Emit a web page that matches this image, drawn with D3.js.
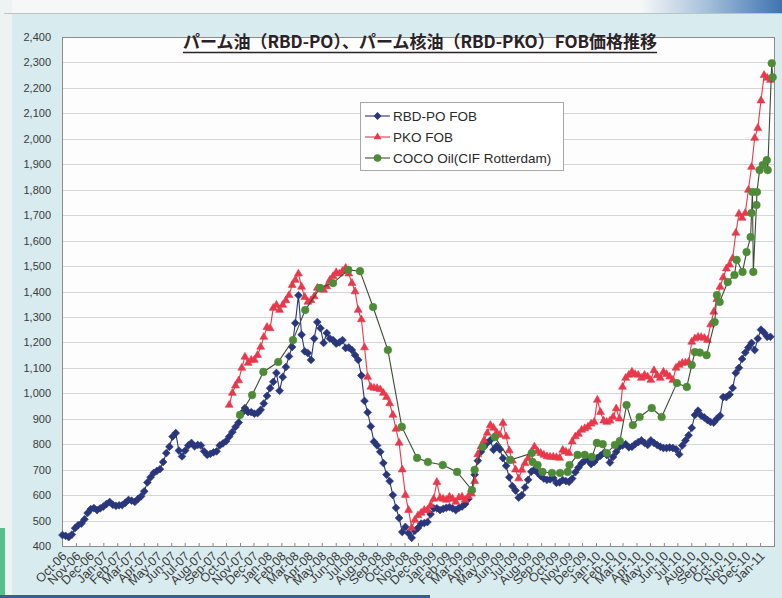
<!DOCTYPE html>
<html>
<head>
<meta charset="utf-8">
<script src="https://cdn.jsdelivr.net/npm/d3@7"></script>
<style>
  body { margin: 0; background: #d8ebef; }
  svg { display: block; }
</style>
</head>
<body>
<svg id="chart" width="782" height="598"></svg>
<script>
// Weekly RBD-PO FOB, first week starting 2006-10-02
var RBD_PO_START = "2006-10-02";
var rbdPo = [
    443, 440, 435, 445, 470, 482, 488, 505, 530, 545,
    549, 541, 548, 555, 565, 573, 562, 558, 560, 561,
    570, 581, 578, 573, 585, 595, 615, 650, 670, 687,
    695, 702, 730, 765, 790, 830, 844, 775, 752, 775,
    795, 805, 792, 797, 795, 772, 758, 762, 768, 772,
    795, 803, 812, 830, 848, 868, 885, 922, 942, 926,
    926, 920, 922, 935, 960, 990, 1020, 1045, 1080, 1010,
    1064, 1103, 1145, 1182, 1276, 1385, 1230, 1165, 1158, 1131,
    1215, 1280, 1256, 1198, 1237, 1215, 1209, 1195, 1200, 1209,
    1178, 1180, 1170, 1150, 1131, 1070, 970, 925, 870, 810,
    795, 770, 726, 680, 655, 600, 550, 510, 455, 475,
    450, 432, 460, 471, 488, 490, 494, 525, 548, 548,
    541, 546, 550, 553, 548, 541, 550, 555, 565, 585,
    615, 680, 735, 770, 790, 805, 816, 778, 792, 780,
    745, 715, 670, 635, 618, 590, 600, 630, 660, 692,
    700, 688, 675, 665, 660, 662, 667, 648, 650, 659,
    655, 652, 665, 690, 708, 725, 735, 738, 722, 730,
    746, 755, 765, 758, 728, 750, 770, 790, 795, 800,
    788, 790, 800, 808, 815, 805, 797, 815, 805, 797,
    790, 785, 785, 787, 785, 780, 760, 795, 815, 835,
    864, 915, 932, 912, 905, 895, 887, 885, 900, 912,
    985, 985, 995, 1021, 1080, 1100, 1135, 1160, 1180, 1198,
    1170, 1215, 1250, 1238, 1222, 1222
];

// Weekly PKO FOB, first week starting 2007-10-08
var PKO_START = "2007-10-08";
var pko = [
    954, 1001, 1030, 1050, 1100, 1143, 1119,
    1131, 1131, 1150, 1182, 1221, 1260, 1255, 1335, 1347, 1327,
    1347, 1365, 1385, 1425, 1445, 1470, 1418, 1378, 1359, 1365,
    1380, 1414, 1410, 1406, 1420, 1445, 1460, 1475, 1470, 1480,
    1492, 1470, 1433, 1400, 1327, 1290, 1180, 1064, 1025, 1021,
    1020, 1015, 1001, 985, 960, 915, 860, 805, 700, 600,
    541, 471, 502, 520, 530, 541, 541, 560, 585, 651,
    589, 585, 581, 593, 585, 573, 590, 593, 581, 595,
    605, 655, 760, 790, 815, 844, 875, 864, 845, 836,
    883, 830, 775, 735, 700, 665, 699, 725, 745, 765,
    790, 772, 765, 758, 752, 750, 750, 748, 746, 777,
    770, 765, 810, 830, 840, 856, 862, 868, 880, 887,
    974, 926, 892, 887, 892, 907, 940, 900, 1025, 1060,
    1072, 1084, 1075, 1072, 1060, 1072, 1065, 1052, 1090, 1070,
    1060, 1084, 1075, 1065, 1052, 1100, 1111, 1119, 1120, 1123,
    1202, 1215, 1221, 1220, 1217, 1209, 1270, 1320, 1370, 1418,
    1455, 1490, 1505, 1530, 1630, 1705, 1689, 1708, 1799, 1889,
    2003, 2042, 2150, 2250, 2239, 2231
];

// COCO Oil (CIF Rotterdam), irregular dates
var cocoDates = [
    "2007-11-01", "2007-11-28", "2007-12-23", "2008-01-25", "2008-02-27",
    "2008-03-25", "2008-04-27", "2008-05-26", "2008-06-29", "2008-07-25",
    "2008-08-23", "2008-09-25", "2008-10-26", "2008-11-29", "2008-12-23",
    "2009-01-25", "2009-02-26", "2009-03-31", "2009-04-06", "2009-04-24",
    "2009-05-21", "2009-06-24", "2009-08-11", "2009-08-13", "2009-08-24",
    "2009-09-04", "2009-09-25", "2009-10-13", "2009-10-30", "2009-11-03",
    "2009-11-21", "2009-12-07", "2009-12-23", "2010-01-03", "2010-01-16",
    "2010-01-25", "2010-02-12", "2010-02-23", "2010-03-10", "2010-03-24",
    "2010-04-08", "2010-05-05", "2010-05-27", "2010-06-30", "2010-07-22",
    "2010-08-02", "2010-08-09", "2010-08-20", "2010-09-04", "2010-09-22",
    "2010-09-27", "2010-10-03", "2010-10-21", "2010-11-05", "2010-11-10",
    "2010-11-23", "2010-12-02", "2010-12-11", "2010-12-13", "2010-12-15",
    "2010-12-17", "2010-12-24", "2010-12-25", "2010-12-31", "2011-01-07",
    "2011-01-16", "2011-01-18", "2011-01-27", "2011-01-29"
];
var cocoValues = [
    915, 993, 1084, 1123, 1209,
    1327, 1414, 1433, 1485, 1480,
    1339, 1170, 868, 746, 730,
    718, 691, 620, 699, 790,
    828, 738, 765, 730, 718,
    691, 687, 687, 691, 718,
    758, 758, 750, 805, 800,
    765, 797, 812, 954, 875,
    907, 942, 907, 1040, 1025,
    1111, 1162, 1160, 1150, 1280,
    1386, 1359, 1437, 1465, 1524,
    1477, 1555, 1614, 1708, 1791,
    1477, 1740, 1791, 1877, 1897,
    1916, 1877, 2297, 2242
];

var yTicks = [400, 500, 600, 700, 800, 900, 1000, 1100, 1200, 1300, 1400, 1500,
              1600, 1700, 1800, 1900, 2000, 2100, 2200, 2300, 2400];
// month labels run Oct-06 .. Jan-11
var FIRST_MONTH = "2006-10-01";
var LAST_MONTH = "2011-01-01";
var legendLabels = ["RBD-PO FOB", "PKO FOB", "COCO Oil(CIF Rotterdam)"];
var TITLE = "パーム油（RBD-PO）、パーム核油（RBD-PKO）FOB価格推移";

(function(){
    // plot area in px
    var PLOT = { left: 62, right: 774, top: 37, bottom: 546 };

    // Styles
    var BLUE = "#29367c";
    var RED = "#e8384a";
    var GREEN = "#4e8b37";
    var GREEN_LINE = "#3e4c36";
    var TEXT_COLOR = "#3a3a3a";
    var FONT = "'Liberation Sans', Arial, sans-serif";

    var svg = d3.select("#chart");
    var parse = d3.timeParse("%Y-%m-%d");

    var x = d3.scaleTime()
        .domain([parse("2006-10-01"), parse("2011-02-01")])
        .range([PLOT.left, PLOT.right]);
    var y = d3.scaleLinear()
        .domain([400, 2400])
        .range([PLOT.bottom, PLOT.top]);

    var weekly = function(start, values) {
        var d0 = parse(start);
        return values.map(function(v, i) {
            return { date: d3.timeDay.offset(d0, 7 * i), value: v };
        });
    };

    var series = [
        { name: legendLabels[0], data: weekly(RBD_PO_START, rbdPo), line: BLUE, fill: BLUE, marker: "diamond" },
        { name: legendLabels[1], data: weekly(PKO_START, pko), line: RED, fill: RED, marker: "triangle" },
        { name: legendLabels[2], data: cocoDates.map(function(d, i) {
                return { date: parse(d), value: cocoValues[i] };
            }), line: GREEN_LINE, fill: GREEN, marker: "circle" }
    ];

    // scan edges (paper around the printed chart)
    var bg = svg.append("g");
    bg.append("rect").attr("x", 0).attr("y", 0).attr("width", 782).attr("height", 13).attr("fill", "#f6f8f8");
    bg.append("rect").attr("x", 0).attr("y", 0).attr("width", 12).attr("height", 598).attr("fill", "#edf3f3");
    bg.append("line").attr("x1", 4).attr("x2", 782).attr("y1", 13.5).attr("y2", 13.5)
        .attr("stroke", "#b8c4c6").attr("stroke-width", 1);
    var sky = svg.append("defs").append("linearGradient").attr("id", "sky");
    sky.append("stop").attr("offset", "0%").attr("stop-color", "#f6f8f8");
    sky.append("stop").attr("offset", "45%").attr("stop-color", "#a9c3dc");
    sky.append("stop").attr("offset", "100%").attr("stop-color", "#3f73b0");
    bg.append("rect").attr("x", 640).attr("y", 0).attr("width", 142).attr("height", 13).attr("fill", "url(#sky)");
    bg.append("rect").attr("x", 0).attr("y", 528).attr("width", 5).attr("height", 70).attr("fill", "#55c08c");
    bg.append("rect").attr("x", 0).attr("y", 595).attr("width", 430).attr("height", 3).attr("fill", "#3a5c93");

    // plot area
    svg.append("rect")
        .attr("x", PLOT.left).attr("y", PLOT.top)
        .attr("width", PLOT.right - PLOT.left).attr("height", PLOT.bottom - PLOT.top)
        .attr("fill", "#fdfdfd");

    // gridlines
    svg.append("g").selectAll("line")
        .data(yTicks.slice(1, -1))
        .enter().append("line")
        .attr("x1", PLOT.left).attr("x2", PLOT.right)
        .attr("y1", function(d) { return Math.round(y(d)) + 0.5; })
        .attr("y2", function(d) { return Math.round(y(d)) + 0.5; })
        .attr("stroke", "#d4d6d8").attr("stroke-width", 1);

    svg.append("rect")
        .attr("x", PLOT.left + 0.5).attr("y", PLOT.top + 0.5)
        .attr("width", PLOT.right - PLOT.left).attr("height", PLOT.bottom - PLOT.top)
        .attr("fill", "none").attr("stroke", "#8c8c8c").attr("stroke-width", 1);

    // y axis
    var yAxis = svg.append("g")
        .attr("transform", "translate(" + PLOT.left + ",0)")
        .call(d3.axisLeft(y).tickValues(yTicks).tickFormat(d3.format(",")).tickSize(0).tickPadding(11));
    yAxis.select(".domain").remove();
    yAxis.selectAll("text")
        .attr("font-family", FONT).attr("font-size", 11).attr("fill", TEXT_COLOR);

    // x axis, one tick per month
    var months = d3.timeMonth.range(parse(FIRST_MONTH), d3.timeMonth.offset(parse(LAST_MONTH), 1));
    var xAxis = svg.append("g")
        .attr("transform", "translate(0," + PLOT.bottom + ")")
        .call(d3.axisBottom(x)
            .tickValues(months)
            .tickFormat(d3.timeFormat("%b-%y"))
            .tickSize(-3)
            .tickPadding(6));
    xAxis.select(".domain").remove();
    xAxis.selectAll(".tick line").attr("stroke", "#8c8c8c");
    xAxis.selectAll("text")
        .attr("font-family", FONT).attr("font-size", 12.5).attr("fill", TEXT_COLOR)
        .attr("text-anchor", "end")
        .attr("dy", "0.3em")
        .attr("transform", "translate(-2,4) rotate(-45)");

    // series lines and markers
    var line = d3.line()
        .x(function(d) { return x(d.date); })
        .y(function(d) { return y(d.value); });

    var markerPath = {
        diamond: "M0,-3.9L3.9,0L0,3.9L-3.9,0Z",
        triangle: d3.symbol(d3.symbolTriangle, 27)(),
        circle: d3.symbol(d3.symbolCircle, 46)()
    };

    series.forEach(function(s) {
        var g = svg.append("g");
        g.append("path")
            .datum(s.data)
            .attr("d", line)
            .attr("fill", "none")
            .attr("stroke", s.line)
            .attr("stroke-width", 1.1);
        g.selectAll("path.mark")
            .data(s.data)
            .enter().append("path")
            .attr("class", "mark")
            .attr("d", markerPath[s.marker])
            .attr("transform", function(d) {
                return "translate(" + x(d.date) + "," + y(d.value) + ")";
            })
            .attr("fill", s.fill)
            .attr("stroke", s.fill)
            .attr("stroke-width", 0.6);
    });

    // title
    var title = svg.append("text")
        .attr("x", 420).attr("y", 48)
        .attr("text-anchor", "middle")
        .attr("font-family", "'Noto Sans CJK JP', sans-serif")
        .attr("font-weight", "bold")
        .attr("font-size", 17)
        .attr("fill", "#2a2226")
        .text(TITLE);
    var tb = title.node().getBBox();
    svg.append("line")
        .attr("x1", tb.x).attr("x2", tb.x + tb.width)
        .attr("y1", 52.5).attr("y2", 52.5)
        .attr("stroke", "#2a2226").attr("stroke-width", 1.6);

    // legend
    var legend = svg.append("g").attr("transform", "translate(360,102)");
    legend.append("rect")
        .attr("x", 0.5).attr("y", 0.5).attr("width", 203).attr("height", 68)
        .attr("fill", "#ffffff").attr("stroke", "#a8a8a8");
    var item = legend.selectAll("g.item")
        .data(series)
        .enter().append("g")
        .attr("class", "item")
        .attr("transform", function(d, i) { return "translate(0," + (14 + i * 21) + ")"; });
    item.append("line")
        .attr("x1", 5).attr("x2", 30).attr("y1", 0).attr("y2", 0)
        .attr("stroke", function(d) { return d.line; }).attr("stroke-width", 1.1);
    item.append("path")
        .attr("d", function(d) { return markerPath[d.marker]; })
        .attr("transform", "translate(17.5,0)")
        .attr("fill", function(d) { return d.fill; });
    item.append("text")
        .attr("x", 33).attr("y", 0).attr("dy", "0.36em")
        .attr("font-family", FONT).attr("font-size", 13.5).attr("fill", "#2a2a2a")
        .text(function(d) { return d.name; });
})();
</script>
</body>
</html>
